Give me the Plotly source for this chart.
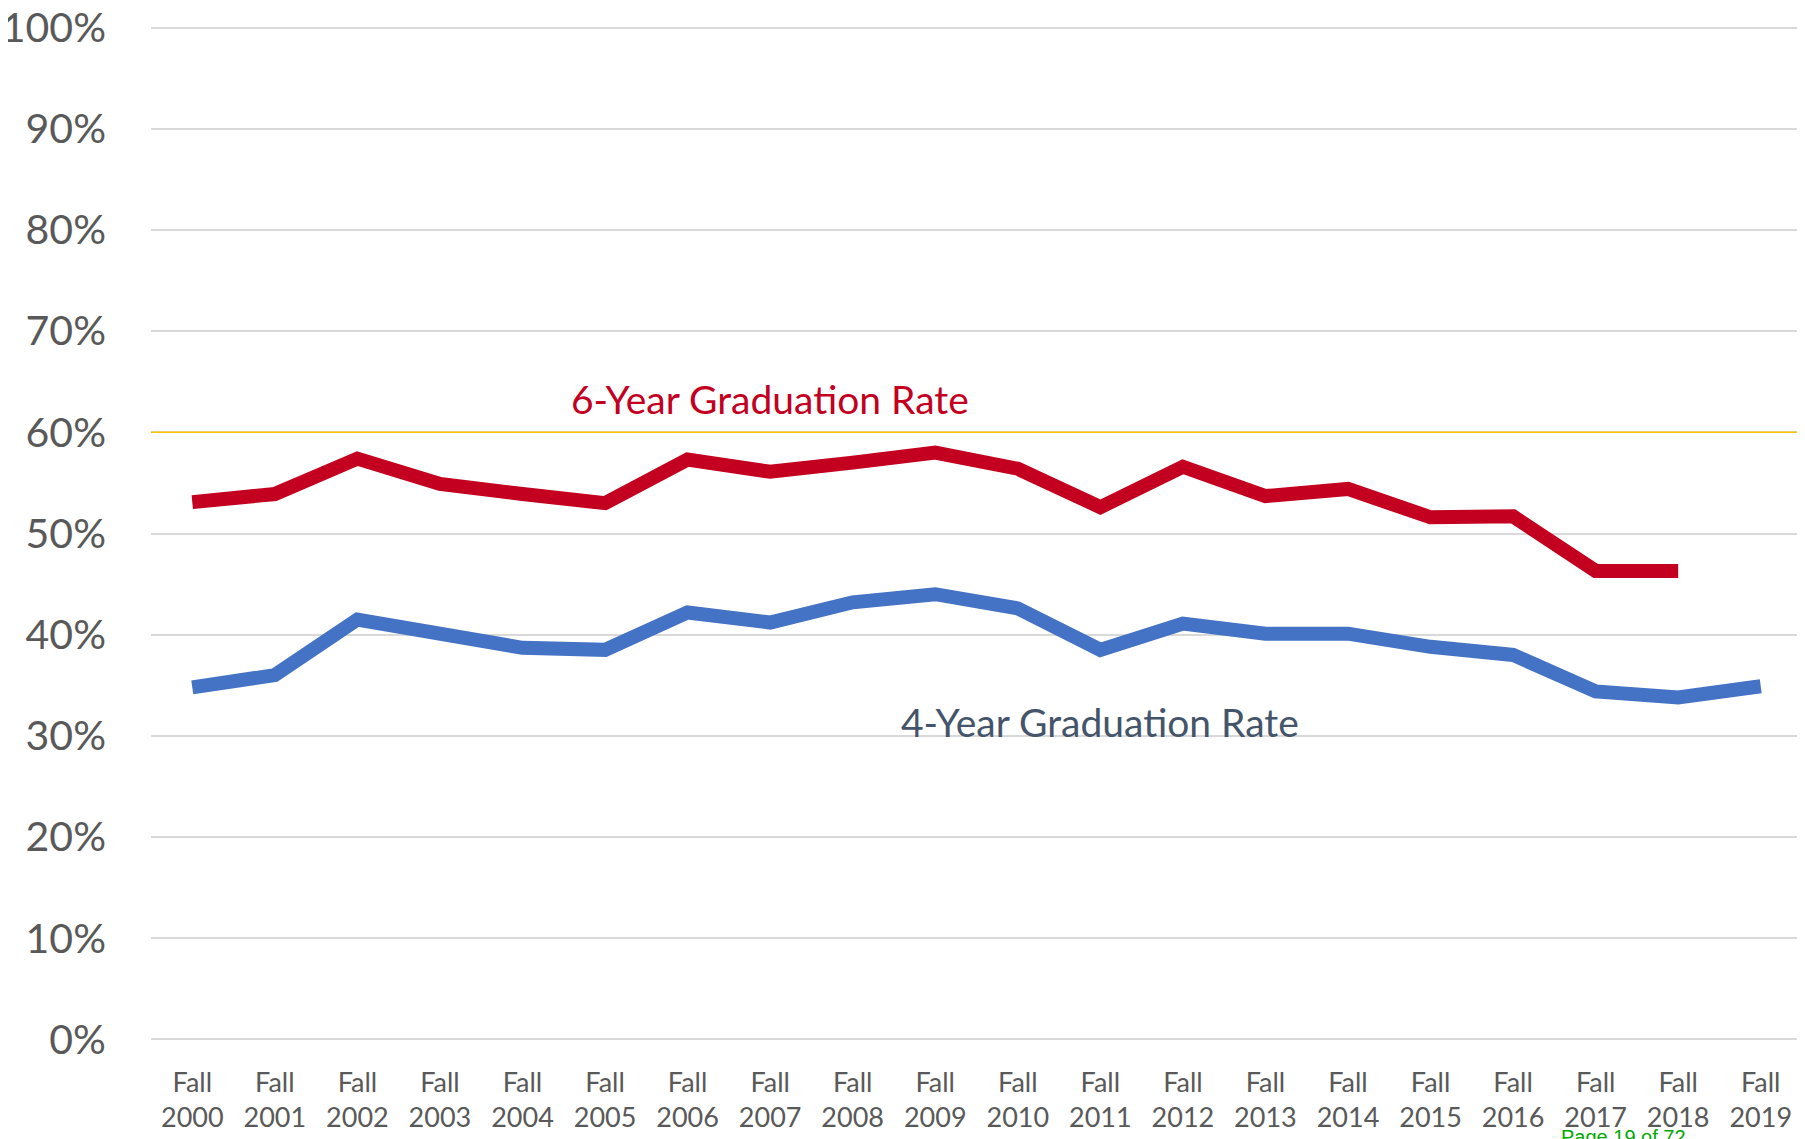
import plotly.graph_objects as go

categories = [f"Fall<br>{y}" for y in range(2000, 2020)]
six_year = [53.1, 53.9, 57.4, 54.9, 53.9, 53.0, 57.3, 56.1, 57.0, 58.0,
            56.4, 52.6, 56.6, 53.7, 54.4, 51.6, 51.7, 46.3, 46.3, None]
four_year = [34.8, 36.0, 41.5, 40.0, 38.7, 38.5, 42.2, 41.2, 43.2, 44.0,
             42.6, 38.5, 41.1, 40.1, 40.1, 38.8, 38.0, 34.4, 33.8, 34.9]
y_ticks = list(range(0, 101, 10))
y_tick_labels = [f"{v}%" for v in y_ticks]
highlight_level = 60

RED = "#C3001F"
BLUE = "#4472C4"
FONT = "Lato"

fig = go.Figure()
fig.add_trace(go.Scatter(x=categories, y=four_year, mode="lines",
                         line=dict(color=BLUE, width=14), name="4-Year Graduation Rate",
                         showlegend=False))
fig.add_trace(go.Scatter(x=categories, y=six_year, mode="lines",
                         line=dict(color=RED, width=14), name="6-Year Graduation Rate",
                         showlegend=False))

fig.add_shape(type="line", xref="paper", x0=0, x1=1, yref="y",
              y0=highlight_level, y1=highlight_level,
              line=dict(color="#FFC000", width=1.5), layer="above")

fig.add_annotation(x=categories[7], y=63.3, text="6-Year Graduation Rate",
                   showarrow=False, font=dict(family=FONT, size=39, color=RED))
fig.add_annotation(x=categories[11], y=31.4, text="4-Year Graduation Rate",
                   showarrow=False, font=dict(family=FONT, size=39, color="#44546A"))
fig.add_annotation(xref="paper", yref="paper", x=0.8916, y=-0.093,
                   xanchor="center", yanchor="middle", text="Page 19 of 72",
                   showarrow=False,
                   font=dict(family="Liberation Sans", size=20, color="#00AA00"))

fig.update_layout(
    width=1797, height=1131,
    margin=dict(l=143, r=3, t=17, b=97, pad=0, autoexpand=False),
    paper_bgcolor="white", plot_bgcolor="white",
    font=dict(family=FONT, color="#595959"),
)
fig.update_xaxes(type="category", range=[-0.5, 19.5], showgrid=False,
                 showline=False, zeroline=False, ticks="", automargin=False,
                 tickfont=dict(family=FONT, size=27, color="#595959"),
                 ticklabelstandoff=22, ticklabeloverflow="allow")
fig.update_yaxes(range=[-0.25, 100.25], tickvals=y_ticks, ticktext=y_tick_labels,
                 showgrid=True, gridcolor="#D9D9D9", gridwidth=2,
                 zeroline=False, showline=False, ticks="", automargin=False,
                 tickfont=dict(family=FONT, size=41, color="#595959"),
                 ticklabelstandoff=44, ticklabeloverflow="allow")

fig.write_html("out.html")
